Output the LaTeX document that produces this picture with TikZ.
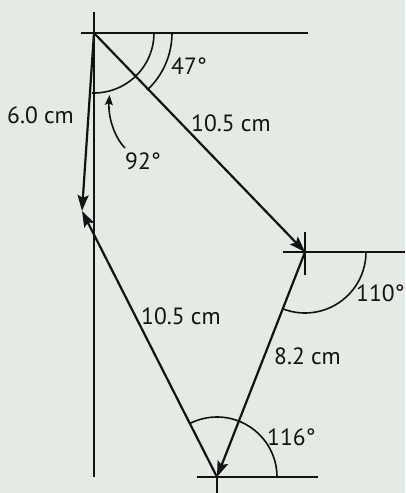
\documentclass[tikz,border=0pt]{standalone}
\usepackage{fontspec}
\setmainfont{PT Sans}
\usepackage{tikz}
\usetikzlibrary{arrows.meta, positioning, calc}
\definecolor{mybg}{RGB}{228,234,228}
\definecolor{myink}{RGB}{18,18,18}
\tikzset{
  vec/.style={line width=2.2pt, color=myink,
    -{Stealth[length=16pt, width=11pt, inset=3pt]}},
  guide/.style={line width=1.6pt, color=myink},
  anglearc/.style={line width=1.6pt, color=myink},
  pointer/.style={line width=1.6pt, color=myink,
    -{Stealth[length=10pt, width=8pt, inset=2pt]}},
  lbl/.style={font=\fontsize{23.5}{25}\selectfont, color=myink, inner sep=0pt}
}
\begin{document}
\begin{tikzpicture}[x=1pt, y=1pt]
  % background and page size
  \fill[mybg] (0,0) rectangle (405,493);
  \useasboundingbox (0,0) rectangle (405,493);

  % ── points of the vector polygon ──────────────────────────────────────────
  \coordinate (A) at (94,460);
  \coordinate (B) at (305,241);
  \coordinate (C) at (217,16);
  \coordinate (D) at (82,282);

  % ── reference lines ───────────────────────────────────────────────────────
  \draw[guide] (94,481) -- (94,16);
  \draw[guide] (81,460) -- (308,460);
  \draw[guide] (283,241) -- (405,241);
  \draw[guide] (305,261) -- (305,218);
  \draw[guide] (197,16) -- (318,16);
  \draw[guide] (217,16) -- (217,0);

  % ── angle arcs ────────────────────────────────────────────────────────────
  \draw[anglearc] ([shift={(0:60)}]A) arc[start angle=0, end angle=-92, radius=60];
  \draw[anglearc] ([shift={(0:78)}]A) arc[start angle=0, end angle=-47, radius=78];
  \draw[anglearc] ([shift={(0:61)}]B) arc[start angle=0, end angle=-111, radius=61];
  \draw[anglearc] ([shift={(0:60)}]C) arc[start angle=0, end angle=117, radius=60];

  % ── vectors ───────────────────────────────────────────────────────────────
  \draw[vec] (A) -- (B);
  \draw[vec] (B) -- (C);
  \draw[vec] (C) -- (D);
  \draw[vec] (A) -- (D);

  % ── labels ────────────────────────────────────────────────────────────────
  \node[lbl, anchor=west] (l60)  at (7,378)   {6.0 cm};
  \node[lbl, anchor=west] (l105a) at (191,370) {10.5 cm};
  \node[lbl, anchor=west] (l105b) at (141,177) {10.5 cm};
  \node[lbl, anchor=west] (l82)  at (274,137)  {8.2 cm};
  \node[lbl, anchor=west] (q47)  at (171,427)  {47°};
  \node[lbl, anchor=west] (q92)  at (125,332)  {92°};
  \node[lbl, anchor=west] (q110) at (356,200)  {110°};
  \node[lbl, anchor=west] (q116) at (267,56)   {116°};

  % pointer from the 92 label to its arc
  \coordinate (q92tail) at (125,345);
  \coordinate (q92tip) at ($(A)+(-76:64)$);
  \draw[pointer] (q92tail) .. controls (115,355) and (108,375) .. (q92tip);
\end{tikzpicture}
\end{document}
